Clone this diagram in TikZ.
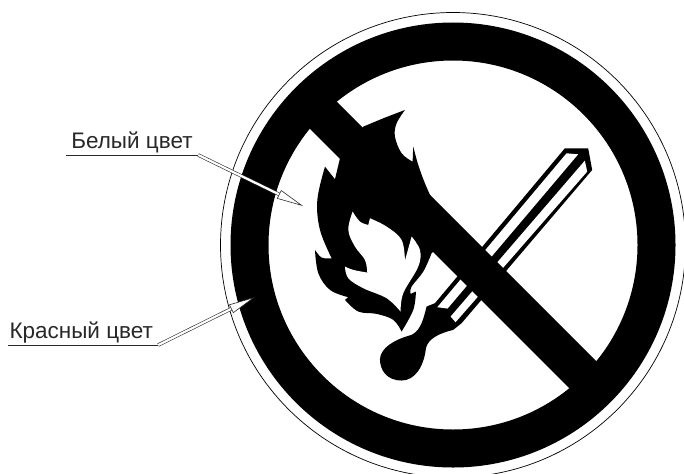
\documentclass[tikz,border=0pt]{standalone}
\usepackage{fontspec}
\setmainfont{Liberation Sans}
\usetikzlibrary{arrows.meta,positioning,calc}
\definecolor{inkblack}{RGB}{0,0,0}
\definecolor{labelgray}{RGB}{40,40,40}
\tikzset{
  leadertext/.style={inner sep=0pt,anchor=south,text=labelgray,font=\fontsize{19.2pt}{21pt}\selectfont,text depth=5pt},
  underline/.style={draw=labelgray,line width=.7pt},
  hollowarrow/.style={double=white,draw=labelgray,line width=.5pt,double distance=1.9pt,-{Stealth[open,fill=white,length=8mm,width=2.8mm,inset=0pt]}}
}
\begin{document}
\begin{tikzpicture}[x=.03cm,y=-.03cm]
\useasboundingbox (0,0) rectangle (684,473);
\fill[white] (0,0) rectangle (684,473);
% sign: thin outer circle and black ring
\coordinate (centre) at (453,245);
\draw[inkblack,line width=.6pt,fill=white] (centre) circle[radius=232.5];
\draw[inkblack,line width=1.14cm] (centre) circle[radius=203.5];
% drawn in the units of a 3x crop of the match area
\begin{scope}[shift={(280,90)},x=.01cm,y=-.01cm]
% match stick
\fill[inkblack] (465,640)--(855,175)--(925,175)--(937,240)--(545,700)--(520,720)
  .. controls (480,730) and (445,745) .. (438,775)
  .. controls (432,830) and (405,872) .. (365,872)
  .. controls (320,872) and (300,840) .. (300,808)
  .. controls (302,775) and (340,750) .. (395,735)
  .. controls (425,720) and (432,680) .. (440,650)--cycle;
\fill[white] (472,652)--(860,190)--(895,193)--(503,656)--cycle;
\fill[white] (512,680)--(915,212)--(922,245)--(527,697)--cycle;
% flame
\fill[inkblack] plot[smooth,tension=.6] coordinates {(250,110) (310,85) (375,60)}
  -- plot[smooth,tension=.6] coordinates {(375,60) (350,100) (345,140) (365,190) (398,215)}
  -- (400,170)
  -- plot[smooth,tension=.6] coordinates {(400,170) (415,225) (435,280) (455,325)}
  -- (520,420) -- (455,490)
  -- plot[smooth,tension=.6] coordinates {(455,490) (430,545) (395,590) (392,612)}
  -- (408,605)
  -- plot[smooth,tension=.6] coordinates {(408,605) (400,660) (365,725)}
  -- plot[smooth,tension=.6] coordinates {(365,725) (340,690) (290,672) (235,665) (195,630)}
  -- (205,622)
  -- plot[smooth,tension=.6] coordinates {(205,622) (150,600) (115,550) (105,480)}
  -- plot[smooth,tension=.6] coordinates {(105,480) (125,503) (155,505)}
  -- plot[smooth,tension=.6] coordinates {(155,505) (120,420) (112,330) (135,230)}
  -- (165,268) -- (180,205) -- cycle;
\fill[white] plot[smooth,tension=.6] coordinates {(218,365) (205,420) (225,470) (255,510) (262,548)}
  -- plot[smooth,tension=.6] coordinates {(262,548) (220,540) (195,530)}
  -- plot[smooth,tension=.6] coordinates {(195,530) (205,565) (250,595) (320,625) (362,665)}
  -- plot[smooth,tension=.6] coordinates {(362,665) (370,610) (415,530) (420,480) (395,440)}
  -- (375,512)
  -- plot[smooth,tension=.6] coordinates {(375,512) (365,450) (320,410) (270,385)}
  -- (265,405)
  -- plot[smooth,tension=.6] coordinates {(265,405) (240,395) (218,365)} -- cycle;
\end{scope}
% prohibition bar
\fill[inkblack] (320,85)--(612,377)--(586,405)--(294,113)--cycle;
% labels
\node[leadertext,minimum width=132*.03cm] (white) at (132,155) {Белый цвет};
\node[leadertext,minimum width=150*.03cm] (red) at (83,345) {Красный цвет\kern3pt};
\coordinate (whitetip) at (303,206);
\coordinate (redtip) at (255,297);
\foreach \a in {white,red} \draw[underline] (\a.south west)--(\a.south east);
\draw[hollowarrow] (white.south east)--(whitetip);
\draw[hollowarrow] (red.south east)--(redtip);
\end{tikzpicture}
\end{document}
